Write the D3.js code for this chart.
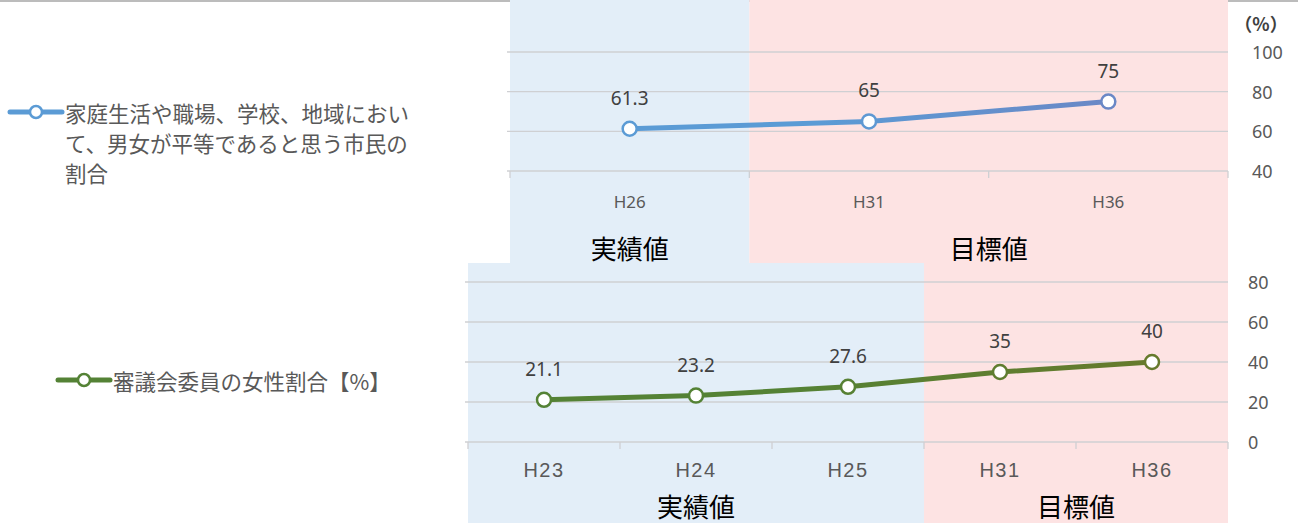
<!DOCTYPE html>
<html>
<head>
<meta charset="utf-8">
<script src="https://cdn.jsdelivr.net/npm/d3@7"></script>
<style>
  html, body { margin: 0; padding: 0; background: #fff; }
  svg { display: block; }
</style>
</head>
<body>
<svg id="chart" width="1298" height="523"></svg>
<script>
// 上段: 家庭生活や職場… / 下段: 審議会委員の女性割合
const topCats  = ['H26', 'H31', 'H36'];
const topVals  = [61.3, 65, 75];
const topTicks = [40, 60, 80, 100];
const topActual = 1;            // 実績値の件数

const botCats  = ['H23', 'H24', 'H25', 'H31', 'H36'];
const botVals  = [21.1, 23.2, 27.6, 35, 40];
const botTicks = [0, 20, 40, 60, 80];
const botActual = 3;

const bandNames = ['実績値', '目標値'];
const topLegend = ['家庭生活や職場、学校、地域におい', 'て、男女が平等であると思う市民の', '割合'];
const botLegend = '審議会委員の女性割合【%】';

const JP = '"Noto Sans CJK JP", sans-serif';
const BLUE_BAND = '#e3eef8', PINK_BAND = '#fde3e3', GRID = '#cfd0d3';

const svg = d3.select('#chart');
const defs = svg.append('defs');

// 上端の枠線
svg.append('line').attr('x1', 0).attr('x2', 1298).attr('y1', 1).attr('y2', 1)
  .attr('stroke', '#a6a6a6').attr('stroke-width', 1.5);

function drawPanel(cfg) {
  const x = d3.scaleBand().domain(cfg.cats).range([cfg.left, cfg.right]);
  const y = d3.scaleLinear().domain(d3.extent(cfg.ticks)).range([cfg.bottom, cfg.top]);
  const g = svg.append('g');

  // 背景バンド (実績値 / 目標値)
  const split = x(cfg.cats[cfg.actual]);
  const bands = [
    { x0: cfg.left, x1: split, fill: BLUE_BAND, name: bandNames[0] },
    { x0: split, x1: cfg.right, fill: PINK_BAND, name: bandNames[1] },
  ];
  g.selectAll('rect.band').data(bands).join('rect').attr('class', 'band')
    .attr('x', d => d.x0).attr('width', d => d.x1 - d.x0)
    .attr('y', cfg.bandTop).attr('height', cfg.bandBottom - cfg.bandTop)
    .attr('fill', d => d.fill);

  // グリッド線
  g.selectAll('line.grid').data(cfg.ticks).join('line').attr('class', 'grid')
    .attr('x1', cfg.left - 3).attr('x2', cfg.right)
    .attr('y1', d => y(d)).attr('y2', d => y(d))
    .attr('stroke', GRID).attr('stroke-width', 1.3);

  // X軸の目盛り
  const edges = cfg.cats.map(c => x(c)).concat([cfg.right]);
  g.selectAll('line.tick').data(edges).join('line').attr('class', 'tick')
    .attr('x1', d => d).attr('x2', d => d)
    .attr('y1', cfg.bottom).attr('y2', cfg.bottom + 7)
    .attr('stroke', GRID).attr('stroke-width', 1.3);

  // Y軸ラベル
  g.selectAll('text.ytick').data(cfg.ticks).join('text').attr('class', 'ytick')
    .attr('x', cfg.yLabelX).attr('y', d => y(d))
    .attr('dominant-baseline', 'central')
    .attr('font-family', cfg.numFont).attr('font-size', 18)
    .attr('fill', '#595959').text(d => d);

  // X軸ラベル
  g.selectAll('text.xtick').data(cfg.cats).join('text').attr('class', 'xtick')
    .attr('x', d => x(d) + x.bandwidth() / 2).attr('y', cfg.xLabelY)
    .attr('text-anchor', 'middle').attr('dominant-baseline', 'central')
    .attr('font-family', cfg.catFont).attr('font-size', cfg.catSize)
    .attr('letter-spacing', cfg.catSpacing)
    .attr('fill', '#595959').text(d => d);

  // バンド名
  g.selectAll('text.bandname').data(bands).join('text').attr('class', 'bandname')
    .attr('x', (d, i) => i === 0
      ? x(cfg.cats[Math.floor((cfg.actual - 1) / 2)]) + (cfg.actual % 2 ? x.bandwidth() / 2 : x.bandwidth())
      : (d.x0 + d.x1) / 2)
    .attr('y', cfg.bandLabelY)
    .attr('text-anchor', 'middle').attr('dominant-baseline', 'central')
    .attr('font-family', JP).attr('font-size', 26).attr('fill', '#000')
    .text(d => d.name);

  // 折れ線 (グラデーション)
  const pts = cfg.vals.map((v, i) => ({ v, px: x(cfg.cats[i]) + x.bandwidth() / 2, py: y(v) }));
  const grad = defs.append('linearGradient').attr('id', cfg.id + '-grad')
    .attr('gradientUnits', 'userSpaceOnUse')
    .attr('x1', pts[0].px).attr('x2', pts[pts.length - 1].px).attr('y1', 0).attr('y2', 0);
  grad.append('stop').attr('offset', 0).attr('stop-color', cfg.c0);
  grad.append('stop').attr('offset', 0.4).attr('stop-color', cfg.c0);
  grad.append('stop').attr('offset', 1).attr('stop-color', cfg.c1);
  const col = d3.scaleLinear().domain([pts[0].px + (pts[pts.length - 1].px - pts[0].px) * 0.4, pts[pts.length - 1].px])
    .range([cfg.c0, cfg.c1]).clamp(true);

  g.append('path').datum(pts)
    .attr('d', d3.line().x(d => d.px).y(d => d.py))
    .attr('fill', 'none').attr('stroke', `url(#${cfg.id}-grad)`)
    .attr('stroke-width', 5).attr('stroke-linejoin', 'round');

  g.selectAll('circle.pt').data(pts).join('circle').attr('class', 'pt')
    .attr('cx', d => d.px).attr('cy', d => d.py).attr('r', 7)
    .attr('fill', '#fff').attr('stroke', d => col(d.px)).attr('stroke-width', 2.5);

  g.selectAll('text.val').data(pts).join('text').attr('class', 'val')
    .attr('x', d => d.px).attr('y', d => d.py - 31)
    .attr('text-anchor', 'middle').attr('dominant-baseline', 'central')
    .attr('font-family', '"Noto Sans", sans-serif').attr('font-size', 19)
    .attr('fill', '#404040').text(d => d.v);

  // 凡例
  const lg = svg.append('g');
  lg.append('line').attr('x1', cfg.legX).attr('x2', cfg.legX + 52)
    .attr('y1', cfg.legY).attr('y2', cfg.legY)
    .attr('stroke', cfg.c0).attr('stroke-width', 5).attr('stroke-linecap', 'round');
  lg.append('circle').attr('cx', cfg.legX + 26).attr('cy', cfg.legY).attr('r', 6)
    .attr('fill', '#fff').attr('stroke', cfg.c0).attr('stroke-width', 2.5);
  lg.selectAll('text').data(cfg.legend).join('text')
    .attr('x', cfg.legX + 55).attr('y', (d, i) => cfg.legY + i * 30)
    .attr('dominant-baseline', 'central')
    .attr('font-family', JP).attr('font-size', 21.5).attr('fill', '#595959')
    .text(d => d);
}

drawPanel({
  id: 'top', cats: topCats, vals: topVals, ticks: topTicks, actual: topActual,
  left: 510, right: 1228, top: 52, bottom: 171, bandTop: 0, bandBottom: 263,
  yLabelX: 1252, xLabelY: 201, bandLabelY: 247,
  numFont: '"Noto Sans", sans-serif', catFont: '"Noto Sans", sans-serif', catSize: 17, catSpacing: 0,
  c0: '#5b9bd5', c1: '#6a88c6', legX: 10, legY: 112, legend: topLegend,
});

drawPanel({
  id: 'bot', cats: botCats, vals: botVals, ticks: botTicks, actual: botActual,
  left: 468, right: 1228, top: 282, bottom: 442, bandTop: 263, bandBottom: 523,
  yLabelX: 1248, xLabelY: 470, bandLabelY: 505,
  numFont: '"Noto Sans", sans-serif', catFont: '"Liberation Sans", Arial, sans-serif', catSize: 20, catSpacing: 1.5,
  c0: '#548235', c1: '#667a2c', legX: 58, legY: 380, legend: [botLegend],
});

// 単位
svg.append('text').attr('x', 1261).attr('y', 23)
  .attr('text-anchor', 'middle').attr('dominant-baseline', 'central')
  .attr('font-family', JP).attr('font-size', 18).attr('font-weight', 'bold')
  .attr('fill', '#404040').text('（%）');
</script>
</body>
</html>
